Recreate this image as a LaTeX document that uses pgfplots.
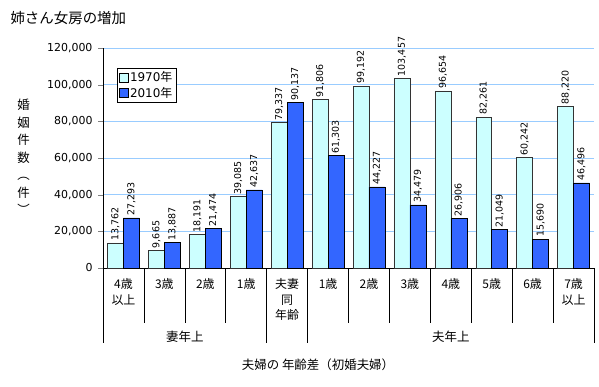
\documentclass[border=0pt]{standalone}
\usepackage{fontspec}
\setmainfont{DejaVu Sans}
\newfontfamily\cjk{Noto Sans CJK JP}
\usepackage{pgfplots}
\pgfplotsset{compat=1.18}
\definecolor{c70}{HTML}{CCFFFF}
\definecolor{c10}{HTML}{3366FF}
\definecolor{gridc}{HTML}{99CCFF}
\begin{document}
\begin{tikzpicture}[x=1bp,y=1bp]
\path[use as bounding box] (0,0) rectangle (599,386);
\node[anchor=west, font=\cjk\fontsize{14.5}{16}\selectfont] at (7,368) {姉さん女房の増加};
\node[align=center, font=\cjk\fontsize{12.5}{17.5}\selectfont] at (23.5,229) {婚\\姻\\件\\数\\︵\\件\\︶};
\begin{axis}[
  at={(103bp,118bp)}, anchor=south west, scale only axis,
  width=491bp, height=220bp,
  ybar=0pt, bar width=0.39,
  xmin=-0.5, xmax=11.5, ymin=0, ymax=120000,
  axis lines*=left,
  axis line style={black, line width=0.6pt},
  ytick={0,20000,40000,60000,80000,100000,120000},
  scaled y ticks=false,
  yticklabel style={/pgf/number format/fixed, /pgf/number format/1000 sep={,}, /pgf/number format/assume math mode=true, font=\fontsize{11}{12}\selectfont, xshift=-2bp},
  tick align=outside, major tick length=5bp,
  ymajorgrids, grid style={gridc, line width=0.8pt},
  xtick={0,...,11},
  major x tick style={draw=none},
  xticklabels={{4{\cjk 歳}\\{\cjk 以上}},{3{\cjk 歳}},{2{\cjk 歳}},{1{\cjk 歳}},{\cjk 夫妻\\同\\年齢},{1{\cjk 歳}},{2{\cjk 歳}},{3{\cjk 歳}},{4{\cjk 歳}},{5{\cjk 歳}},{6{\cjk 歳}},{7{\cjk 歳}\\{\cjk 以上}}},
  xticklabel style={align=center, anchor=north, font=\cjk\fontsize{12}{15.5}\selectfont, yshift=-2bp},
  nodes near coords={\pgfmathprintnumber[fixed,precision=0,1000 sep={,},assume math mode=true]{\pgfplotspointmeta}},
  nodes near coords style={rotate=90, anchor=west, font=\fontsize{9.5}{10}\selectfont, inner sep=2pt, black},
  legend style={at={(0.028,0.909)}, anchor=north west, draw=black, line width=0.6pt, font=\fontsize{12}{14}\selectfont, inner sep=1.5pt, row sep=0pt, legend cell align=left},
  clip=false,
]
\addplot[fill=c70, draw=black!80, line width=0.5pt, legend image code/.code={\draw[fill=c70,draw=black] (0bp,-4.5bp) rectangle (9bp,4.5bp);}] coordinates {
(0,13762) (1,9665) (2,18191) (3,39085) (4,79337) (5,91806) (6,99192) (7,103457) (8,96654) (9,82261) (10,60242) (11,88220)};
\addlegendentry{1970{\cjk 年}}
\addplot[fill=c10, draw=black, line width=0.5pt, legend image code/.code={\draw[fill=c10,draw=black] (0bp,-4.5bp) rectangle (9bp,4.5bp);}] coordinates {
(0,27293) (1,13887) (2,21474) (3,42637) (4,90137) (5,61303) (6,44227) (7,34479) (8,26906) (9,21049) (10,15690) (11,46496)};
\addlegendentry{2010{\cjk 年}}
\pgfplotsinvokeforeach{0.5,1.5,2.5,5.5,6.5,7.5,8.5,9.5,10.5}{
  \draw[black, line width=0.6pt] (axis cs:#1,0) -- ++(0bp,-55bp);
}
\pgfplotsinvokeforeach{-0.5,3.5,4.5,11.5}{
  \draw[black, line width=0.6pt] (axis cs:#1,0) -- ++(0bp,-75bp);
}
\node[font=\cjk\fontsize{12.5}{14}\selectfont] at ([yshift=-69bp]axis cs:1.5,0) {妻年上};
\node[font=\cjk\fontsize{12.5}{14}\selectfont] at ([yshift=-69bp]axis cs:8,0) {夫年上};
\end{axis}
\node[font=\cjk\fontsize{12.5}{14}\selectfont] at (318,21) {夫婦の 年齢差（初婚夫婦）};
\end{tikzpicture}
\end{document}
